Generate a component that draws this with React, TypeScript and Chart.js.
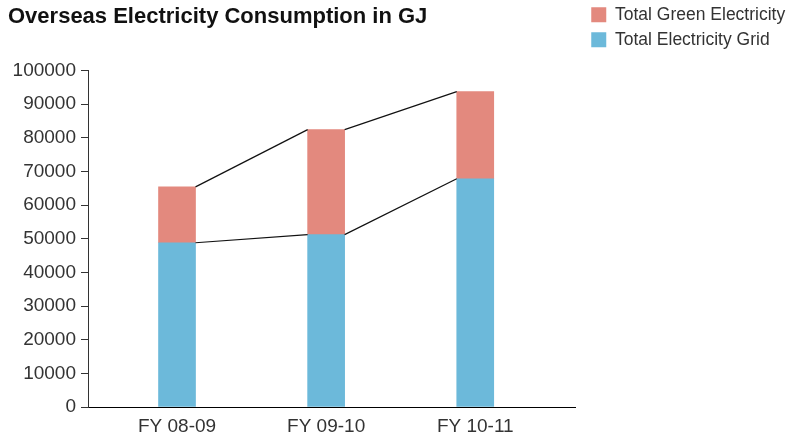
import { useEffect, useRef } from 'react';
import { Chart, registerables } from 'chart.js';

Chart.register(...registerables);

const categories = ['FY 08-09', 'FY 09-10', 'FY 10-11'];
const gridValues = [48800, 51200, 67800];
const greenValues = [16600, 31200, 25900];
const titleText = 'Overseas Electricity Consumption in GJ';
const gridLabel = 'Total Electricity Grid';
const greenLabel = 'Total Green Electricity';

const FONT = '"Liberation Sans", Arial, Helvetica, sans-serif';

const connectorPlugin = {
  id: 'connectors',
  afterDatasetsDraw(chart: any) {
    const ctx = chart.ctx;
    ctx.save();
    ctx.strokeStyle = '#111';
    ctx.lineWidth = 1.2;
    chart.data.datasets.forEach((_: any, di: number) => {
      const meta = chart.getDatasetMeta(di);
      if (meta.hidden) return;
      const bars = meta.data;
      for (let i = 0; i < bars.length - 1; i++) {
        const a = bars[i];
        const b = bars[i + 1];
        ctx.beginPath();
        ctx.moveTo(a.x + a.width / 2, a.y);
        ctx.lineTo(b.x - b.width / 2, b.y);
        ctx.stroke();
      }
    });
    ctx.restore();
  },
};

const legendShift = {
  id: 'legendShift',
  afterLayout(chart: any) {
    const l = chart.legend;
    if (!l) return;
    l.left += 8;
    l.right = chart.width;
    l.top -= 1.5;
    l.bottom -= 1.5;
  },
};

export default function App() {
  const ref = useRef<HTMLCanvasElement | null>(null);

  useEffect(() => {
    document.body.style.margin = '0';
    if (!ref.current) return;
    const chart = new Chart(ref.current, {
      type: 'bar',
      data: {
        datasets: [
          {
            label: gridLabel,
            data: gridValues.map((v, i) => ({ x: i, y: v })),
            backgroundColor: '#6CB9DA',
            barThickness: 37,
          },
          {
            label: greenLabel,
            data: greenValues.map((v, i) => ({ x: i, y: v })),
            backgroundColor: '#E3897E',
            barThickness: 37,
          },
        ],
      },
      options: {
        animation: false,
        responsive: true,
        maintainAspectRatio: false,
        layout: { padding: { left: 8, top: 0, right: 21, bottom: 0 } },
        plugins: {
          title: {
            display: true,
            text: titleText,
            align: 'start',
            color: '#111',
            font: { family: FONT, size: 22, weight: 'bold' },
            padding: { top: 4, bottom: 40 },
          },
          legend: {
            position: 'right',
            align: 'start',
            reverse: true,
            labels: {
              boxWidth: 15,
              boxHeight: 15,
              padding: 7.5,
              color: '#333',
              font: { family: FONT, size: 17.5 },
            },
          },
          tooltip: { enabled: false },
        },
        scales: {
          x: {
            type: 'linear',
            stacked: true,
            offset: false,
            min: -0.597,
            max: 2.674,
            afterBuildTicks: (axis: any) => {
              axis.ticks = categories.map((_, i) => ({ value: i }));
            },
            afterFit: (s: any) => {
              s.height = 32;
            },
            ticks: {
              color: '#333',
              font: { family: FONT, size: 19 },
              padding: 8,
              autoSkip: false,
              maxRotation: 0,
              callback: (v: any) => categories[v as number] ?? '',
            },
            grid: { display: false, drawTicks: false },
            border: { display: true, color: '#000', width: 1 },
          },
          y: {
            stacked: true,
            min: 0,
            max: 100000,
            ticks: {
              stepSize: 10000,
              color: '#333',
              font: { family: FONT, size: 19 },
              padding: 5,
              callback: (v: any) => String(v),
            },
            grid: { drawOnChartArea: false, drawTicks: true, tickLength: 7, color: '#333', lineWidth: 1 },
            border: { display: true, color: '#333', width: 1 },
            afterFit: (s: any) => {
              s.width = 80;
            },
          },
        },
      },
      plugins: [connectorPlugin, legendShift],
    } as any);
    return () => chart.destroy();
  }, []);

  return (
    <div style={{ width: 786, height: 439, position: 'relative' }}>
      <canvas ref={ref} />
    </div>
  );
}
